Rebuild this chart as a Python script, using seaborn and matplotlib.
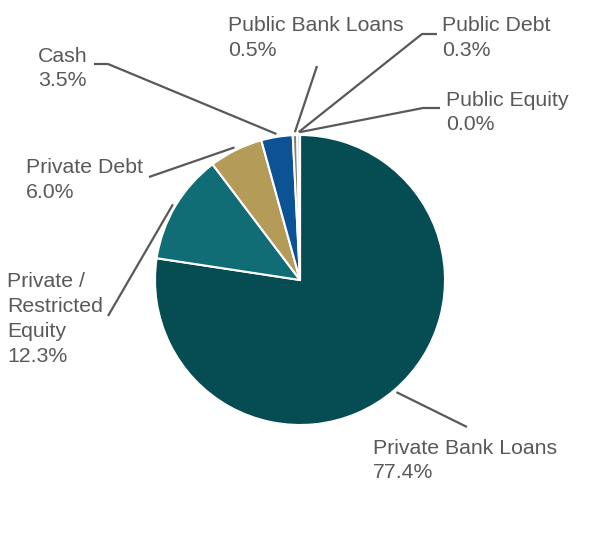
import numpy as np
import matplotlib
matplotlib.use("Agg")
import matplotlib.pyplot as plt
import seaborn as sns

# data
categories = ["Private Bank Loans", "Private /\nRestricted\nEquity", "Private Debt",
              "Cash", "Public Bank Loans", "Public Debt", "Public Equity"]
shares = [77.4, 12.3, 6.0, 3.5, 0.5, 0.3, 0.0]
colors = ["#064c53", "#106d75", "#b49b57", "#0b5394", "#7f7f7f", "#bfbfbf", "#d9d9d9"]

sns.set_theme(style="white")
plt.rcParams["font.family"] = ["Liberation Sans", "DejaVu Sans"]

txt_color = "#595959"

# label block centre (left x, centre y) and leader-line outer points, image pixels
label_pos = [(373, 460.5), (7, 319), (26, 180), (38, 68.5), (228, 38), (442, 38), (446, 112.5)]
leader_pts = [
    [(467, 427)],
    [(108, 316)],
    [(149, 177)],
    [(94, 64), (108, 64)],
    [(317, 66)],
    [(437, 34), (422, 34)],
    [(440, 108), (423, 108)],
]

fig = plt.figure(figsize=(6, 5.6), dpi=100)
ax = fig.add_axes([0, 0, 1, 1])
ax.set_xlim(0, 600)
ax.set_ylim(560, 0)
ax.axis("off")

cx, cy, r = 300, 280, 145
wedges, _ = ax.pie(shares, colors=colors, startangle=-90, counterclock=True,
                   center=(cx, cy), radius=r, normalize=True,
                   wedgeprops=dict(edgecolor="white", linewidth=1.5))
ax.set_xlim(0, 600)
ax.set_ylim(560, 0)
ax.set_aspect("equal")

for w, name, val, (tx, ty), pts in zip(wedges, categories, shares, label_pos, leader_pts):
    mid = np.deg2rad((w.theta1 + w.theta2) / 2)
    ex = cx + r * 1.02 * np.cos(mid)
    ey = cy + r * 1.02 * np.sin(mid)
    xs = [p[0] for p in pts] + [ex]
    ys = [p[1] for p in pts] + [ey]
    ax.plot(xs, ys, color=txt_color, lw=1.6, solid_capstyle="butt")
    ax.text(tx, ty, f"{name}\n{val:.1f}%", ha="left", va="center",
            fontsize=15.3, color=txt_color, linespacing=1.39)

fig.savefig("out.png", dpi=100, facecolor="white")
